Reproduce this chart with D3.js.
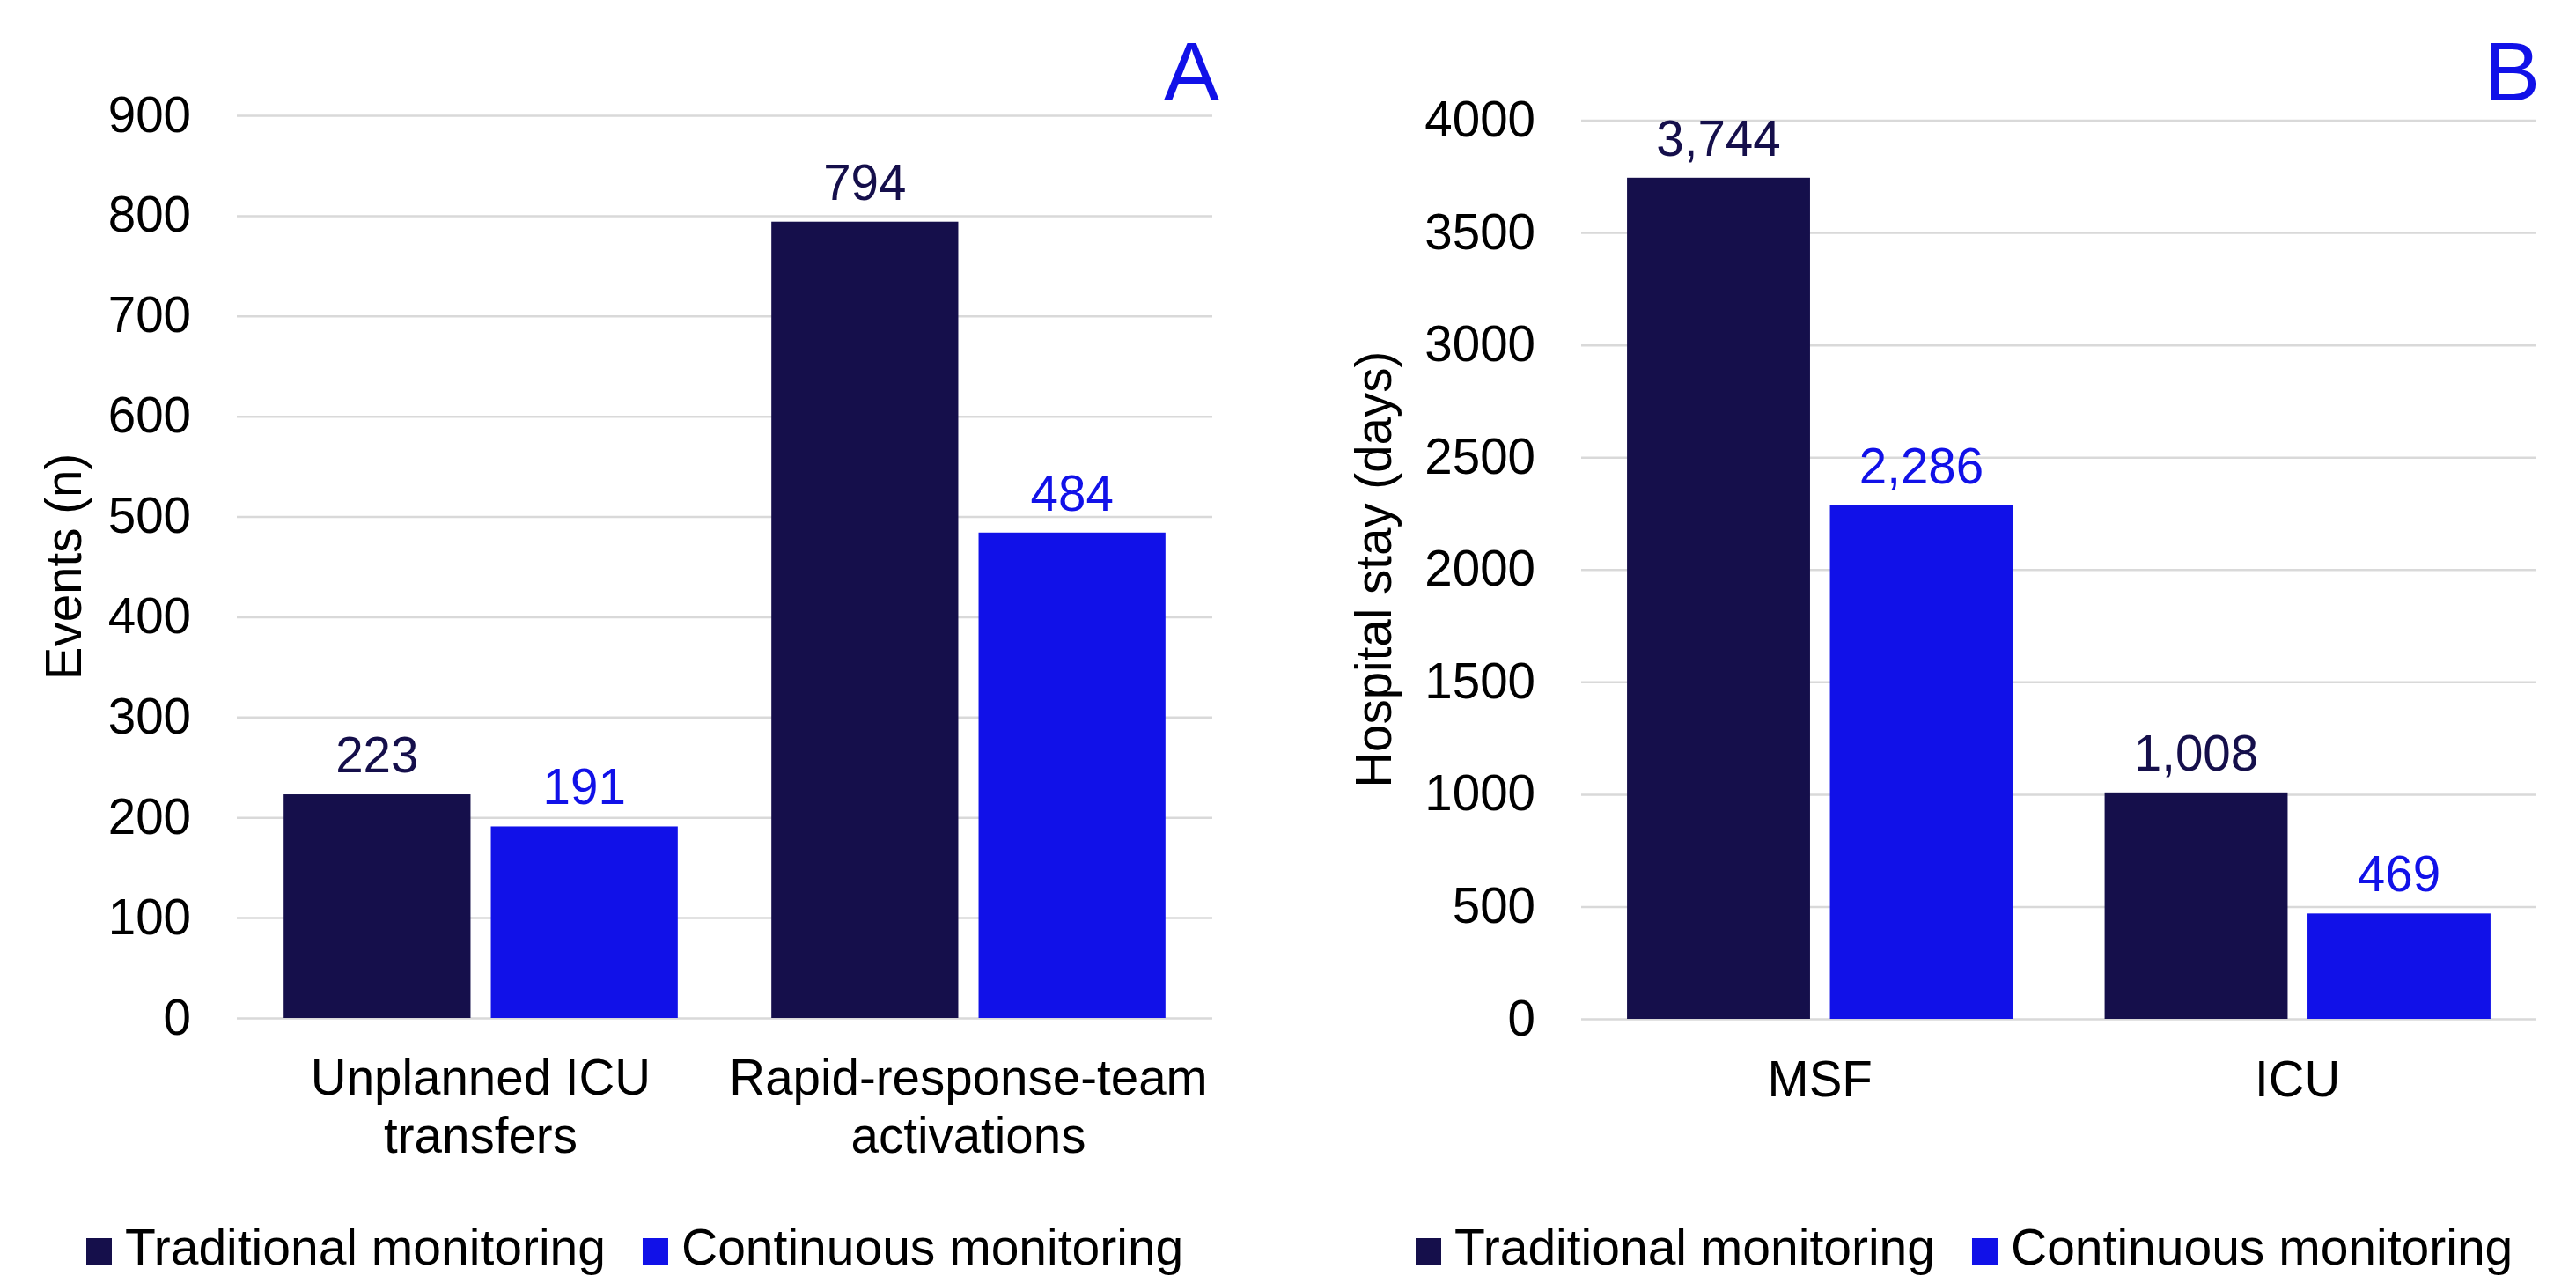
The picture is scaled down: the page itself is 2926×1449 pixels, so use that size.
<!DOCTYPE html>
<html>
<head>
<meta charset="utf-8">
<script src="https://cdn.jsdelivr.net/npm/d3@7/dist/d3.min.js"></script>
<style>
  html, body { margin: 0; padding: 0; background: #fff; }
  svg { display: block; }
  text { font-family: "Liberation Sans", Arial, Helvetica, sans-serif; }
</style>
</head>
<body>
<svg id="chart" width="2926" height="1449"></svg>
<script>
// ---- Data ----
const seriesNames = ["Traditional monitoring", "Continuous monitoring"];
const seriesColors = ["#150F4B", "#1111E8"];

const categoriesA = [["Unplanned ICU", "transfers"], ["Rapid-response-team", "activations"]];
const traditionalA = [223, 794];
const continuousA = [191, 484];
const ticksA = [0, 100, 200, 300, 400, 500, 600, 700, 800, 900];

const categoriesB = [["MSF"], ["ICU"]];
const traditionalB = [3744, 1008];
const continuousB = [2286, 469];
const ticksB = [0, 500, 1000, 1500, 2000, 2500, 3000, 3500, 4000];

const svg = d3.select("#chart");
const FS = 56.5;
const LFS = 57;

function panel(cfg) {
  const g = svg.append("g");
  const cats = cfg.categories.map(c => c.join(" "));
  const x0 = d3.scaleBand().domain(cats).range([cfg.left, cfg.right]).paddingInner(0).paddingOuter(0);
  const bw = x0.bandwidth();
  const x1 = d3.scaleBand().domain(seriesNames).range([bw * 0.096, bw * 0.904]).paddingInner(0.098);
  const y = d3.scaleLinear().domain([0, cfg.max]).range([cfg.bottom, cfg.top]);

  // axis + gridlines
  const axis = d3.axisLeft(y).tickValues(cfg.ticks).tickFormat(d3.format("d"))
    .tickSize(-(cfg.right - cfg.left)).tickPadding(52);
  const ag = g.append("g").attr("transform", `translate(${cfg.left},0)`).call(axis);
  ag.select(".domain").remove();
  ag.selectAll(".tick line").attr("stroke", "#D9D9D9").attr("stroke-width", 2.5);
  ag.selectAll(".tick text").attr("font-size", FS).attr("fill", "#000")
    .attr("font-family", "'Liberation Sans', Arial, sans-serif");

  // bars
  const rows = cats.map((c, i) => ({ cat: c, vals: [cfg.trad[i], cfg.cont[i]] }));
  const grp = g.selectAll(".grp").data(rows).enter().append("g")
    .attr("transform", d => `translate(${x0(d.cat)},0)`);
  const items = grp.selectAll(".bar").data(d => d.vals.map((v, k) => ({ v, k }))).enter();
  items.append("rect")
    .attr("x", d => x1(seriesNames[d.k]))
    .attr("width", x1.bandwidth())
    .attr("y", d => y(d.v))
    .attr("height", d => y(0) - y(d.v))
    .attr("fill", d => seriesColors[d.k]);
  items.append("text")
    .attr("x", d => x1(seriesNames[d.k]) + x1.bandwidth() / 2)
    .attr("y", d => y(d.v) - 25)
    .attr("text-anchor", "middle")
    .attr("font-size", FS)
    .attr("fill", d => seriesColors[d.k])
    .text(d => d3.format(",")(d.v));

  // category labels
  cfg.categories.forEach((lines, i) => {
    const t = g.append("text")
      .attr("x", x0(cats[i]) + bw / 2)
      .attr("y", cfg.catY)
      .attr("text-anchor", "middle")
      .attr("font-size", FS)
      .attr("fill", "#000");
    lines.forEach((ln, j) => {
      t.append("tspan").attr("x", x0(cats[i]) + bw / 2).attr("y", cfg.catY + j * 66).text(ln);
    });
  });

  // y title
  g.append("text")
    .attr("transform", `translate(${cfg.titleX},${(cfg.top + cfg.bottom) / 2}) rotate(-90)`)
    .attr("text-anchor", "middle")
    .attr("font-size", FS)
    .attr("fill", "#000")
    .text(cfg.yTitle);

  // panel letter
  g.append("text")
    .attr("x", cfg.letterX).attr("y", 114)
    .attr("text-anchor", "end")
    .attr("font-size", 95)
    .attr("fill", "#1111E8")
    .text(cfg.letter);

  // legend
  let lx = cfg.legendX;
  seriesNames.forEach((s, k) => {
    g.append("rect").attr("x", lx).attr("y", 1406).attr("width", 29).attr("height", 30)
      .attr("fill", seriesColors[k]);
    const t = g.append("text").attr("x", lx + 44).attr("y", 1436)
      .attr("font-size", LFS).attr("fill", "#000").text(s);
    lx = lx + 44 + t.node().getComputedTextLength() + 42;
  });
}

panel({
  categories: categoriesA, trad: traditionalA, cont: continuousA, ticks: ticksA,
  max: 900, left: 269, right: 1377, top: 131, bottom: 1156,
  catY: 1243, titleX: 92, yTitle: "Events (n)", letter: "A", letterX: 1385, legendX: 98
});
panel({
  categories: categoriesB, trad: traditionalB, cont: continuousB, ticks: ticksB,
  max: 4000, left: 1796, right: 2881, top: 136.5, bottom: 1157,
  catY: 1245, titleX: 1580, yTitle: "Hospital stay (days)", letter: "B", letterX: 2885, legendX: 1608
});
</script>
</body>
</html>
